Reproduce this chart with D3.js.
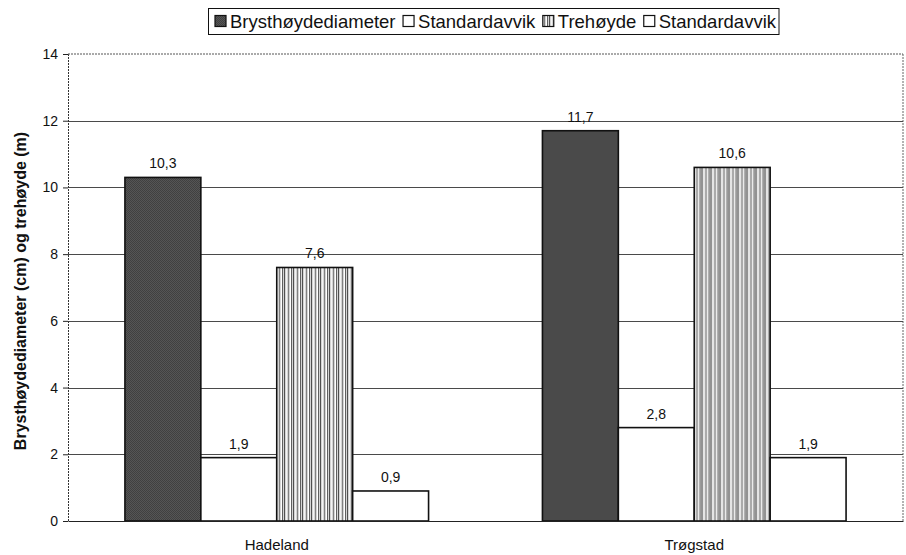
<!DOCTYPE html>
<html>
<head>
<meta charset="utf-8">
<script src="https://cdn.jsdelivr.net/npm/d3@7"></script>
<style>
  html, body { margin: 0; padding: 0; background: #fff; }
  svg { display: block; font-family: "Liberation Sans", Arial, Helvetica, sans-serif; }
</style>
</head>
<body>
<svg id="chart" width="906" height="555"></svg>
<script>
// Stand data: mean breast-height diameter and tree height, with standard deviations
const categories = ["Hadeland", "Trøgstad"];
const seriesNames = ["Brysthøydediameter", "Standardavvik", "Trehøyde", "Standardavvik"];
const diameter = [10.3, 11.7];
const diameterSd = [1.9, 2.8];
const height = [7.6, 10.6];
const heightSd = [0.9, 1.9];
const yTicks = [0, 2, 4, 6, 8, 10, 12, 14];
const yTitle = "Brysthøydediameter (cm) og trehøyde (m)";

const seriesValues = [diameter, diameterSd, height, heightSd];
const fills = ["url(#dots)", "#ffffff", "url(#stripes)", "#ffffff"];

const svg = d3.select("#chart");
const margin = { left: 68, right: 3, top: 54, bottom: 34 };
const W = 906, H = 555;
const plotL = margin.left, plotR = W - margin.right, plotT = margin.top, plotB = H - margin.bottom;

const nb = d3.formatLocale({ decimal: ",", thousands: " ", grouping: [3], currency: ["", " kr"] });
const fmt = nb.format(".1f");

// Fill patterns
const defs = svg.append("defs");
const dots = defs.append("pattern").attr("id", "dots").attr("patternUnits", "userSpaceOnUse")
  .attr("width", 2).attr("height", 2);
dots.append("rect").attr("width", 2).attr("height", 2).attr("fill", "#555555");
dots.append("rect").attr("width", 1).attr("height", 1).attr("fill", "#404040");
dots.append("rect").attr("x", 1).attr("y", 1).attr("width", 1).attr("height", 1).attr("fill", "#404040");

const stripes = defs.append("pattern").attr("id", "stripes").attr("patternUnits", "userSpaceOnUse")
  .attr("width", 9).attr("height", 40);
stripes.append("rect").attr("width", 9).attr("height", 40).attr("fill", "#d4d4d4");
stripes.append("rect").attr("x", 0).attr("width", 1).attr("height", 40).attr("fill", "#505050");
stripes.append("rect").attr("x", 2).attr("width", 1).attr("height", 40).attr("fill", "#f4f4f4");
stripes.append("rect").attr("x", 4).attr("width", 1).attr("height", 40).attr("fill", "#808080");
stripes.append("rect").attr("x", 6).attr("width", 1).attr("height", 40).attr("fill", "#ffffff");
stripes.append("rect").attr("x", 7).attr("width", 1).attr("height", 40).attr("fill", "#606060");

// Scales
const x0 = d3.scaleBand().domain(categories).range([plotL, plotR]).padding(0);
const x1 = d3.scaleBand().domain(d3.range(seriesNames.length)).range([0, x0.bandwidth()])
  .paddingInner(0).paddingOuter(0.75);
const y = d3.scaleLinear().domain([0, 14]).range([plotB, plotT]);

// Plot area frame (dotted top and right edges)
svg.append("line").attr("x1", plotL).attr("x2", plotR).attr("y1", y(14)).attr("y2", y(14))
  .attr("stroke", "#555").attr("stroke-width", 1).attr("stroke-dasharray", "2,1");
svg.append("line").attr("x1", plotR).attr("x2", plotR).attr("y1", plotT).attr("y2", plotB)
  .attr("stroke", "#666").attr("stroke-width", 1).attr("stroke-dasharray", "2,1");

// Horizontal gridlines
svg.append("g").selectAll("line").data(yTicks.filter(t => t > 0 && t < 14)).join("line")
  .attr("x1", plotL).attr("x2", plotR)
  .attr("y1", d => Math.round(y(d)) + 0.5).attr("y2", d => Math.round(y(d)) + 0.5)
  .attr("stroke", "#4a4a4a").attr("stroke-width", 1);

// Y axis
const yAxis = svg.append("g").attr("transform", `translate(${plotL},0)`)
  .call(d3.axisLeft(y).tickValues(yTicks).tickSize(5).tickPadding(5).tickFormat(d3.format("d")));
yAxis.select(".domain").attr("stroke", "#333").attr("stroke-dasharray", "2,1");
yAxis.selectAll(".tick line").attr("stroke", "#222");
yAxis.selectAll(".tick text").attr("font-size", 14).attr("fill", "#111")
  .attr("font-family", "Liberation Sans, Arial, sans-serif");

// Bars
const groups = svg.append("g").selectAll("g").data(categories).join("g")
  .attr("transform", d => `translate(${x0(d)},0)`);

groups.each(function(cat, ci) {
  const g = d3.select(this);
  seriesValues.forEach((vals, si) => {
    const v = vals[ci];
    g.append("rect")
      .attr("x", x1(si)).attr("width", x1.bandwidth())
      .attr("y", y(v)).attr("height", y(0) - y(v))
      .attr("fill", fills[si])
      .attr("stroke", "#111").attr("stroke-width", 1.6);
    g.append("text")
      .attr("x", x1(si) + x1.bandwidth() / 2).attr("y", y(v) - 9)
      .attr("text-anchor", "middle").attr("font-size", 14).attr("fill", "#111")
      .text(fmt(v));
  });
});

// X axis
const xAxis = svg.append("g").attr("transform", `translate(0,${plotB})`)
  .call(d3.axisBottom(x0).tickSize(0).tickPadding(18));
xAxis.select(".domain").attr("stroke", "#222").attr("stroke-width", 1.2);
xAxis.selectAll(".tick text").attr("font-size", 15).attr("fill", "#111")
  .attr("font-family", "Liberation Sans, Arial, sans-serif");

// Y axis title
svg.append("text")
  .attr("transform", "translate(26,291) rotate(-90)")
  .attr("text-anchor", "middle").attr("font-size", 16).attr("font-weight", "bold").attr("fill", "#111")
  .text(yTitle);

// Legend
const legend = svg.append("g");
const legFont = 18.5;
const box = 11, gapBox = 4, gapItem = 7.5;
let lx = 215;
const ly = 21;
seriesNames.forEach((name, i) => {
  legend.append("rect").attr("x", lx).attr("y", ly - box / 2).attr("width", box).attr("height", box)
    .attr("fill", fills[i]).attr("stroke", "#111").attr("stroke-width", 1.2);
  lx += box + gapBox;
  const t = legend.append("text").attr("x", lx).attr("y", ly + 6.5)
    .attr("font-size", legFont).attr("fill", "#111").text(name);
  lx += t.node().getComputedTextLength() + gapItem;
});
legend.insert("rect", ":first-child")
  .attr("x", 208.5).attr("y", 8.5).attr("width", lx - gapItem + 3 - 208.5).attr("height", 26)
  .attr("fill", "#fff").attr("stroke", "#111").attr("stroke-width", 1);
</script>
</body>
</html>
